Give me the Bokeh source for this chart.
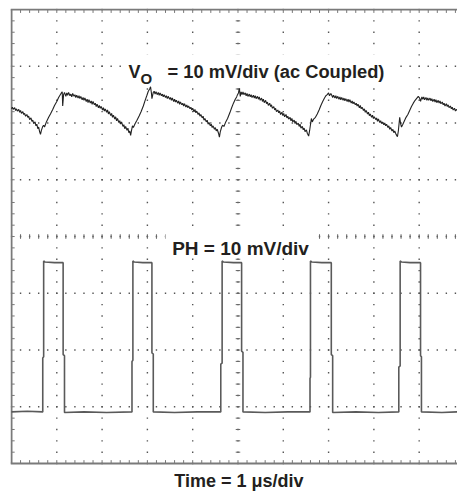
import numpy as np
from bokeh.plotting import figure
from bokeh.models import Range1d, Span, Label
from bokeh.embed import file_html
from bokeh.resources import INLINE

# ---- data (time in divisions = µs, amplitude in divisions) ----
vo_points = [
    (0.00, 6.25), (0.02, 6.28), (0.04, 6.24), (0.07, 6.27), (0.09, 6.22), (0.11, 6.25), (0.13, 6.21),
    (0.16, 6.24), (0.18, 6.19), (0.20, 6.22), (0.22, 6.17), (0.25, 6.20), (0.27, 6.15), (0.29, 6.17),
    (0.31, 6.12), (0.34, 6.15), (0.36, 6.10), (0.38, 6.12), (0.40, 6.06), (0.43, 6.09), (0.45, 6.03),
    (0.47, 6.05), (0.49, 5.99), (0.52, 6.02), (0.54, 5.95), (0.56, 5.98), (0.58, 5.90), (0.60, 5.93),
    (0.62, 5.85), (0.64, 5.80), (0.66, 5.87),
    (0.69, 5.94), (0.71, 5.96), (0.73, 5.93), (0.77, 6.02), (0.82, 6.10), (0.86, 6.16), (0.91, 6.24),
    (0.95, 6.31), (1.00, 6.38), (1.04, 6.45), (1.07, 6.49), (1.10, 6.53), (1.12, 6.55), (1.13, 6.30),
    (1.15, 6.50), (1.17, 6.54),
    (1.20, 6.47), (1.22, 6.53), (1.24, 6.49), (1.26, 6.54), (1.29, 6.48), (1.31, 6.51), (1.33, 6.46),
    (1.35, 6.52), (1.38, 6.47), (1.40, 6.50), (1.42, 6.45), (1.44, 6.49), (1.47, 6.44), (1.49, 6.48),
    (1.51, 6.43), (1.53, 6.47), (1.56, 6.41), (1.58, 6.45), (1.60, 6.40), (1.62, 6.44), (1.65, 6.38),
    (1.67, 6.42), (1.69, 6.36), (1.71, 6.41), (1.74, 6.35), (1.76, 6.39), (1.78, 6.33), (1.80, 6.38),
    (1.83, 6.32), (1.85, 6.35), (1.87, 6.29), (1.89, 6.33), (1.92, 6.27), (1.94, 6.31), (1.96, 6.26),
    (1.98, 6.29), (2.01, 6.23), (2.03, 6.27), (2.05, 6.21), (2.07, 6.25), (2.10, 6.19), (2.12, 6.23),
    (2.14, 6.16), (2.16, 6.20), (2.19, 6.13), (2.21, 6.17), (2.23, 6.10), (2.25, 6.14), (2.28, 6.07),
    (2.30, 6.11), (2.32, 6.04), (2.34, 6.08), (2.37, 6.01), (2.39, 6.04), (2.41, 5.98), (2.43, 6.02),
    (2.46, 5.94), (2.48, 5.97), (2.50, 5.90), (2.52, 5.94), (2.55, 5.87), (2.57, 5.91), (2.59, 5.83),
    (2.61, 5.86), (2.63, 5.78), (2.65, 5.87),
    (2.67, 5.95), (2.69, 5.92), (2.73, 5.99), (2.77, 6.05), (2.82, 6.13), (2.86, 6.20), (2.91, 6.30),
    (2.95, 6.40), (2.99, 6.49), (3.02, 6.56), (3.05, 6.60), (3.07, 6.64), (3.09, 6.52), (3.10, 6.43),
    (3.13, 6.54),
    (3.15, 6.56), (3.17, 6.51), (3.19, 6.55), (3.22, 6.50), (3.24, 6.54), (3.26, 6.49), (3.28, 6.53),
    (3.31, 6.48), (3.33, 6.51), (3.35, 6.46), (3.37, 6.50), (3.40, 6.45), (3.42, 6.48), (3.44, 6.43),
    (3.46, 6.47), (3.49, 6.42), (3.51, 6.45), (3.53, 6.40), (3.55, 6.44), (3.58, 6.38), (3.60, 6.42),
    (3.62, 6.37), (3.64, 6.40), (3.67, 6.35), (3.69, 6.39), (3.71, 6.33), (3.73, 6.37), (3.76, 6.32),
    (3.78, 6.35), (3.80, 6.30), (3.82, 6.34), (3.85, 6.28), (3.87, 6.32), (3.89, 6.27), (3.91, 6.30),
    (3.94, 6.25), (3.96, 6.28), (3.98, 6.23), (4.00, 6.26), (4.03, 6.20), (4.05, 6.24), (4.07, 6.18),
    (4.09, 6.21), (4.12, 6.15), (4.14, 6.18), (4.16, 6.12), (4.18, 6.15), (4.21, 6.09), (4.23, 6.12),
    (4.25, 6.05), (4.27, 6.08), (4.30, 6.02), (4.32, 6.05), (4.34, 5.98), (4.36, 6.01), (4.39, 5.95),
    (4.41, 5.98), (4.43, 5.92), (4.45, 5.95), (4.48, 5.89), (4.50, 5.92), (4.52, 5.86), (4.54, 5.89),
    (4.57, 5.82), (4.59, 5.75), (4.61, 5.85),
    (4.64, 5.93), (4.66, 5.96), (4.69, 5.94), (4.73, 6.02), (4.77, 6.08), (4.82, 6.18), (4.86, 6.27),
    (4.90, 6.35), (4.94, 6.42), (4.97, 6.46), (4.99, 6.50), (5.01, 6.53), (5.03, 6.61), (5.05, 6.47),
    (5.07, 6.55),
    (5.09, 6.50), (5.11, 6.55), (5.13, 6.50), (5.16, 6.53), (5.18, 6.48), (5.20, 6.52), (5.22, 6.47),
    (5.25, 6.51), (5.27, 6.46), (5.29, 6.50), (5.31, 6.45), (5.34, 6.49), (5.36, 6.44), (5.38, 6.48),
    (5.40, 6.43), (5.43, 6.47), (5.45, 6.42), (5.47, 6.46), (5.49, 6.40), (5.52, 6.44), (5.54, 6.38),
    (5.56, 6.42), (5.58, 6.36), (5.61, 6.40), (5.63, 6.34), (5.65, 6.37), (5.67, 6.31), (5.70, 6.35),
    (5.72, 6.29), (5.74, 6.32), (5.76, 6.26), (5.79, 6.29), (5.81, 6.23), (5.83, 6.26), (5.85, 6.20),
    (5.88, 6.23), (5.90, 6.18), (5.92, 6.21), (5.94, 6.15), (5.97, 6.19), (5.99, 6.13), (6.01, 6.17),
    (6.03, 6.11), (6.06, 6.15), (6.08, 6.09), (6.10, 6.12), (6.12, 6.07), (6.15, 6.10), (6.17, 6.04),
    (6.19, 6.08), (6.21, 6.02), (6.24, 6.05), (6.26, 5.99), (6.28, 6.03), (6.30, 5.97), (6.33, 6.00),
    (6.35, 5.94), (6.37, 5.98), (6.39, 5.91), (6.42, 5.94), (6.44, 5.88), (6.46, 5.91), (6.48, 5.85),
    (6.51, 5.88), (6.53, 5.82), (6.56, 5.77), (6.58, 5.86),
    (6.60, 5.97), (6.62, 6.08), (6.64, 6.02), (6.67, 6.07), (6.71, 6.10), (6.75, 6.16), (6.79, 6.23),
    (6.83, 6.31), (6.87, 6.38), (6.91, 6.44), (6.94, 6.48), (6.97, 6.50), (7.00, 6.53), (7.02, 6.48),
    (7.05, 6.52),
    (7.07, 6.49), (7.09, 6.45), (7.11, 6.49), (7.14, 6.44), (7.16, 6.48), (7.18, 6.43), (7.20, 6.47),
    (7.23, 6.42), (7.25, 6.46), (7.27, 6.41), (7.29, 6.45), (7.32, 6.40), (7.34, 6.44), (7.36, 6.39),
    (7.38, 6.43), (7.41, 6.38), (7.43, 6.42), (7.45, 6.37), (7.47, 6.41), (7.50, 6.35), (7.52, 6.39),
    (7.54, 6.34), (7.56, 6.37), (7.59, 6.32), (7.61, 6.35), (7.63, 6.30), (7.65, 6.33), (7.68, 6.27),
    (7.70, 6.31), (7.72, 6.25), (7.74, 6.28), (7.77, 6.22), (7.79, 6.25), (7.81, 6.19), (7.83, 6.22),
    (7.86, 6.16), (7.88, 6.19), (7.90, 6.13), (7.92, 6.16), (7.95, 6.10), (7.97, 6.14), (7.99, 6.08),
    (8.01, 6.11), (8.04, 6.06), (8.06, 6.09), (8.08, 6.03), (8.10, 6.07), (8.13, 6.01), (8.15, 6.04),
    (8.17, 5.99), (8.19, 6.02), (8.22, 5.97), (8.24, 6.00), (8.26, 5.95), (8.28, 5.98), (8.31, 5.92),
    (8.33, 5.95), (8.35, 5.89), (8.37, 5.92), (8.40, 5.86), (8.42, 5.89), (8.44, 5.83), (8.46, 5.86),
    (8.49, 5.80), (8.52, 5.76), (8.54, 5.86),
    (8.57, 6.10), (8.59, 5.99), (8.61, 5.93), (8.64, 5.98), (8.68, 6.05), (8.71, 6.10), (8.75, 6.15),
    (8.79, 6.22), (8.83, 6.29), (8.87, 6.35), (8.91, 6.40), (8.95, 6.44), (8.98, 6.47), (9.01, 6.44),
    (9.03, 6.38), (9.06, 6.46),
    (9.08, 6.42), (9.10, 6.46), (9.12, 6.41), (9.15, 6.45), (9.17, 6.40), (9.19, 6.44), (9.21, 6.40),
    (9.24, 6.44), (9.26, 6.39), (9.28, 6.43), (9.30, 6.38), (9.33, 6.42), (9.35, 6.37), (9.37, 6.41),
    (9.39, 6.36), (9.42, 6.40), (9.44, 6.35), (9.46, 6.39), (9.48, 6.34), (9.51, 6.37), (9.53, 6.32),
    (9.55, 6.35), (9.57, 6.30), (9.60, 6.34), (9.62, 6.29), (9.64, 6.32), (9.66, 6.27), (9.69, 6.30),
    (9.71, 6.25), (9.73, 6.28), (9.75, 6.23), (9.78, 6.26), (9.80, 6.21), (9.82, 6.24), (9.85, 6.22),
]

ph_points = [
    (0.00, 0.91), (0.35, 0.92), (0.69, 0.91), (0.69, 1.86), (0.71, 1.88), (0.71, 3.57), (0.74, 3.55),
    (0.95, 3.54), (1.14, 3.54), (1.14, 1.92), (1.17, 1.90), (1.17, 0.90), (1.60, 0.91), (2.10, 0.90),
    (2.66, 0.91), (2.66, 1.80), (2.68, 1.82), (2.68, 3.57), (2.71, 3.55), (2.90, 3.54), (3.10, 3.54),
    (3.10, 1.95), (3.13, 1.93), (3.13, 0.91), (3.60, 0.90), (4.10, 0.91),
    (4.62, 0.91), (4.62, 1.75), (4.65, 1.77), (4.65, 3.57), (4.68, 3.55), (4.90, 3.54), (5.08, 3.54),
    (5.08, 1.98), (5.11, 1.96), (5.11, 0.91), (5.60, 0.90), (6.10, 0.91),
    (6.59, 0.91), (6.59, 1.50), (6.60, 1.52), (6.60, 3.57), (6.63, 3.55), (6.85, 3.54), (7.06, 3.54),
    (7.06, 1.92), (7.09, 1.90), (7.09, 0.90), (7.60, 0.91), (8.10, 0.90),
    (8.55, 0.91), (8.55, 1.70), (8.58, 1.72), (8.58, 3.57), (8.61, 3.55), (8.80, 3.54), (9.03, 3.54),
    (9.03, 1.90), (9.05, 1.88), (9.05, 0.91), (9.50, 0.90), (9.85, 0.91),
]

vo_label = "= 10 mV/div (ac Coupled)"
ph_label = "PH = 10 mV/div"
time_label = "Time = 1 \u03bcs/div"

H_DIVS = 10
V_DIVS = 8

FONT = "Liberation Sans"
TXT = "#231f20"

p = figure(width=457, height=493,
           x_range=Range1d(-0.022, 9.846), y_range=Range1d(-0.528, 8.018),
           output_backend="svg", toolbar_location=None,
           min_border_left=10, min_border_right=0, min_border_top=8, min_border_bottom=0)
p.xaxis.visible = False
p.yaxis.visible = False
p.xgrid.visible = False
p.ygrid.visible = False
p.outline_line_color = None
p.background_fill_color = "white"
p.border_fill_color = "white"

# graticule dots
minor_t = np.round(np.arange(0, H_DIVS + 0.001, 0.2), 3)
minor_v = np.round(np.arange(0, V_DIVS + 0.001, 0.2), 3)
gx, gy = [], []
for d in range(1, H_DIVS):
    gx += [d] * len(minor_v)
    gy += list(minor_v)
for d in range(1, V_DIVS):
    gx += list(minor_t)
    gy += [d] * len(minor_t)
p.scatter(gx, gy, marker="square", size=1.4, color="#555555", line_color=None)

# centre-line tick marks
cx = H_DIVS / 2
cy = V_DIVS / 2
p.segment(x0=[cx - 0.05] * len(minor_v), x1=[cx + 0.05] * len(minor_v), y0=minor_v, y1=minor_v,
          line_color="#666666", line_width=1)
p.segment(x0=minor_t, x1=minor_t, y0=[cy - 0.04] * len(minor_t), y1=[cy + 0.04] * len(minor_t),
          line_color="#666666", line_width=1)

# border tick marks
p.segment(x0=minor_t, x1=minor_t, y0=[V_DIVS] * len(minor_t), y1=[V_DIVS - 0.06] * len(minor_t),
          line_color="#777777", line_width=1)
p.segment(x0=minor_t, x1=minor_t, y0=[0] * len(minor_t), y1=[0.06] * len(minor_t),
          line_color="#777777", line_width=1)
p.segment(x0=[0] * len(minor_v), x1=[0.07] * len(minor_v), y0=minor_v, y1=minor_v,
          line_color="#777777", line_width=1)

# borders
p.add_layout(Span(location=0, dimension="width", line_color="#7a7a7a", line_width=2))
p.add_layout(Span(location=V_DIVS, dimension="width", line_color="#7a7a7a", line_width=2))
p.segment(x0=[0], x1=[0], y0=[0], y1=[V_DIVS], line_color="#7a7a7a", line_width=2)

# white backdrops behind the on-screen annotations
p.quad(left=[2.45, 3.40], right=[8.48, 6.68], bottom=[6.75, 3.69], top=[7.21, 4.12],
       fill_color="white", line_color=None)

# traces
p.line([a for a, b in ph_points], [b for a, b in ph_points], line_color="#5a5a5a", line_width=1.6)
p.line([a for a, b in vo_points], [b for a, b in vo_points], line_color="#222222", line_width=1.1)

# labels
common = dict(text_font=FONT, text_font_style="bold", text_color=TXT, text_baseline="alphabetic",
              text_align="left")
p.add_layout(Label(x=3.444, y=6.907, text=vo_label, text_font_size="18.3px", **common))
p.add_layout(Label(x=2.583, y=6.907, text="V", text_font_size="18px", **common))
p.add_layout(Label(x=2.848, y=6.784, text="O", text_font_size="15px", **common))
p.add_layout(Label(x=3.547, y=3.789, text=ph_label, text_font_size="19px", **common))
p.add_layout(Label(x=5.022, y=-0.30, text=time_label, text_font_size="18px",
                   text_font=FONT, text_font_style="bold", text_color=TXT,
                   text_baseline="alphabetic", text_align="center"))

open("out.html", "w").write(file_html(p, INLINE))
